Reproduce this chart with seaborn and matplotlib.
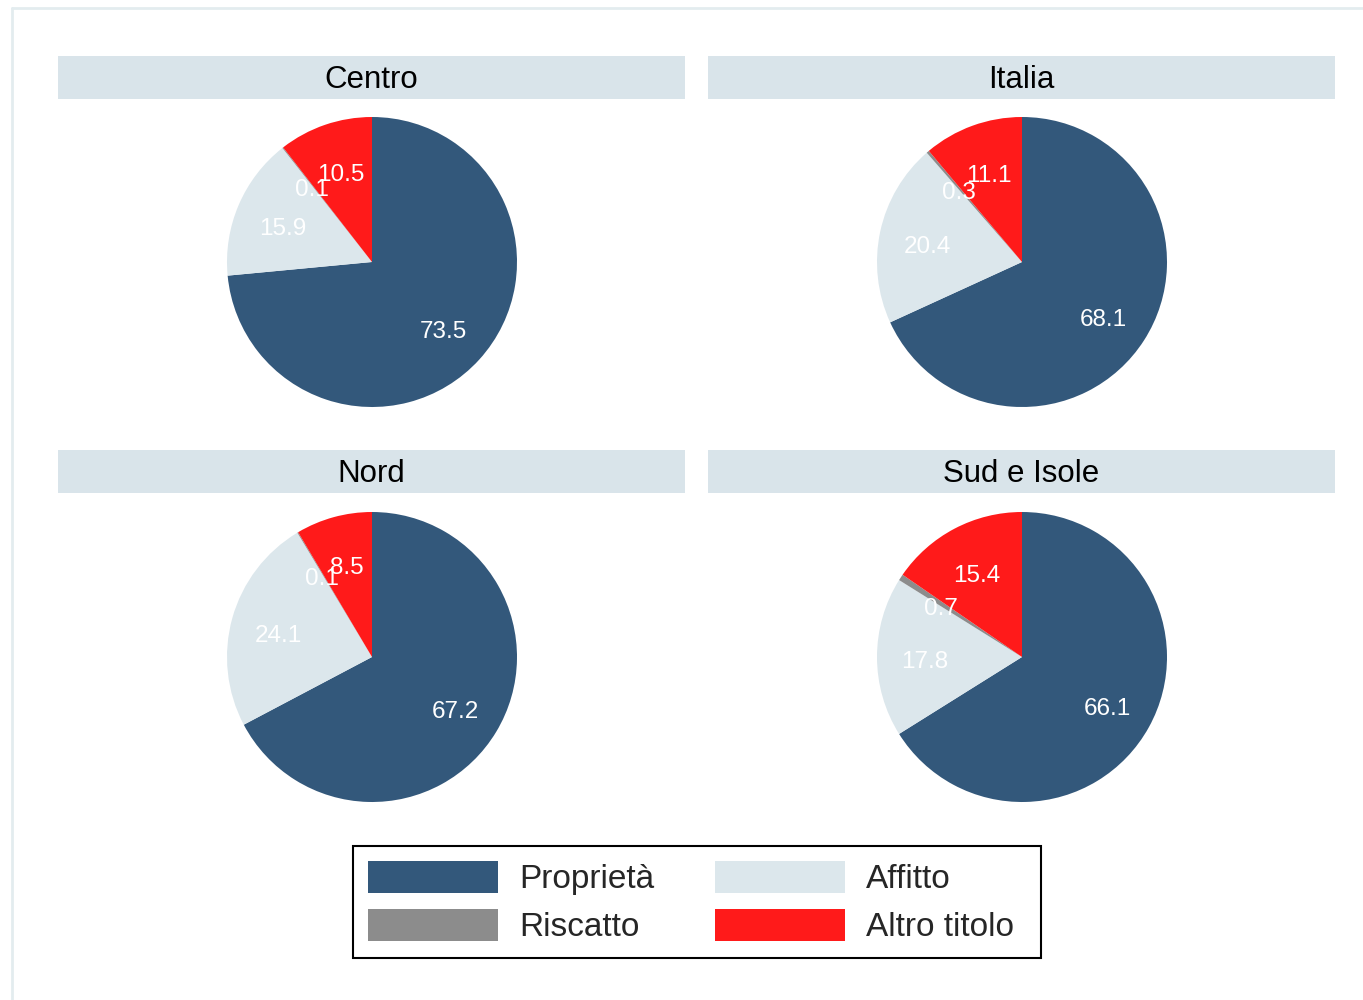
import matplotlib
matplotlib.use("Agg")
import matplotlib.pyplot as plt
from matplotlib.patches import Rectangle, Patch
from matplotlib.lines import Line2D
import seaborn as sns
import numpy as np

sns.set_style("white")
plt.rcParams['font.family'] = ['Liberation Sans', 'DejaVu Sans']

# ---- data ----
regions = ["Centro", "Italia", "Nord", "Sud e Isole"]
categories = ["Proprietà", "Affitto", "Riscatto", "Altro titolo"]
proprieta = [73.5, 68.1, 67.2, 66.1]
affitto = [15.9, 20.4, 24.1, 17.8]
riscatto = [0.1, 0.3, 0.1, 0.7]
altro = [10.5, 11.1, 8.5, 15.4]

colors = {"Proprietà": "#33587b", "Affitto": "#dce7ec",
          "Riscatto": "#8c8c8c", "Altro titolo": "#ff1a1a"}
palette = sns.color_palette([colors[c] for c in categories])

W, H = 1363, 1000
fig = plt.figure(figsize=(W / 100, H / 100), dpi=100)
fig.patch.set_facecolor("white")

# outer light frame
fig.add_artist(Line2D([12 / W, 12 / W], [0, 1 - 8 / H], transform=fig.transFigure,
                      color="#e3ecef", lw=2))
fig.add_artist(Line2D([12 / W, 1], [1 - 8 / H, 1 - 8 / H], transform=fig.transFigure,
                      color="#e3ecef", lw=2))

# panel geometry (pixels)
strip_x = [58, 708, 58, 708]
strip_y = [56, 56, 450, 450]
strip_w, strip_h = 627, 43
centers = [(372, 262), (1022, 262), (372, 657), (1022, 657)]
R = 145

for i, reg in enumerate(regions):
    sx, sy = strip_x[i], strip_y[i]
    fig.add_artist(Rectangle((sx / W, 1 - (sy + strip_h) / H), strip_w / W, strip_h / H,
                             transform=fig.transFigure, facecolor="#d9e4ea",
                             edgecolor="none"))
    fig.text((sx + strip_w / 2) / W, 1 - (sy + strip_h / 2 + 2) / H, reg,
             ha="center", va="center", fontsize=22.5, color="black")

    cx, cy = centers[i]
    ax = fig.add_axes([(cx - R) / W, 1 - (cy + R) / H, 2 * R / W, 2 * R / H])
    vals = [proprieta[i], affitto[i], riscatto[i], altro[i]]
    wedges, _ = ax.pie(vals, colors=palette, startangle=90, counterclock=False,
                       radius=1, wedgeprops=dict(linewidth=0))
    for w, v in zip(wedges, vals):
        ang = np.deg2rad((w.theta1 + w.theta2) / 2)
        ax.text(0.67 * np.cos(ang), 0.67 * np.sin(ang) - 0.035, f"{v:.1f}",
                ha="center", va="center", color="white", fontsize=17.5)
    ax.set_xlim(-1, 1)
    ax.set_ylim(-1, 1)
    ax.axis("off")

# legend box
fig.add_artist(Rectangle((353 / W, 1 - 958 / H), (1041 - 353) / W, (958 - 846) / H,
                         transform=fig.transFigure, facecolor="white",
                         edgecolor="black", linewidth=1.5))

handles = [Patch(facecolor=colors[c], edgecolor="none", label=c)
           for c in ["Proprietà", "Riscatto", "Affitto", "Altro titolo"]]
leg = fig.legend(handles=handles, ncol=2, loc="center",
                 bbox_to_anchor=(691 / W, 1 - 902 / H), fontsize=24,
                 frameon=False,
                 handlelength=3.9, handleheight=1.1, handletextpad=0.63,
                 columnspacing=1.8, labelspacing=0.4, borderpad=0.42,
                 borderaxespad=0)

fig.savefig("out.png", dpi=100, facecolor="white")
